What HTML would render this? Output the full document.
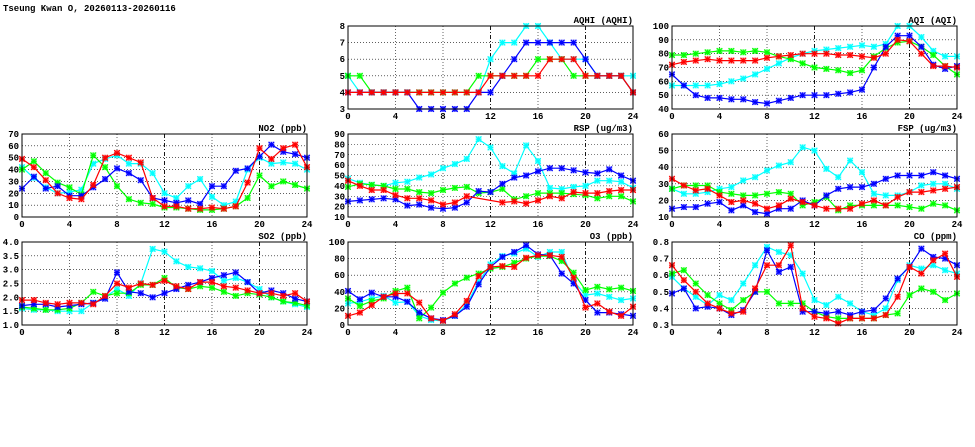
<!DOCTYPE html>
<html><head><meta charset="utf-8"><style>
body{margin:0;background:#fff;width:975px;height:447px;overflow:hidden}
svg{display:block}
text{font-family:"Liberation Mono",monospace;font-size:9px;font-weight:bold;fill:#000}
</style></head><body>
<svg id="chart" width="975" height="447" xmlns="http://www.w3.org/2000/svg">
<text x="3" y="11">Tseung Kwan O, 20260113-20260116</text>
</svg>
<script>
const hours = [0,1,2,3,4,5,6,7,8,9,10,11,12,13,14,15,16,17,18,19,20,21,22,23,24];
const xTicks = [0,4,8,12,16,20,24];
const seriesColors = ['#00ffff','#00ff00','#0000ff','#ff0000'];

const aqhiBlue=[4,4,4,4,4,4,3,3,3,3,3,4,4,5,6,7,7,7,7,7,6,5,5,5,4];
const aqhiCyan=[5,4,4,4,4,4,4,4,4,4,4,4,6,7,7,8,8,7,6,6,6,5,5,5,5];
const aqhiGreen=[5,5,4,4,4,4,4,4,4,4,4,5,5,5,5,5,6,6,6,5,5,5,5,5,4];
const aqhiRed=[4,4,4,4,4,4,4,4,4,4,4,4,5,5,5,5,5,6,6,6,5,5,5,5,4];
const aqhiTicks=[3,4,5,6,7,8];

const aqiBlue=[65,57,50,48,48,47,47,45,44,46,48,50,50,50,51,52,54,70,85,93,93,85,72,69,71];
const aqiCyan=[57,57,57,57,58,60,62,65,69,73,77,80,82,83,84,85,86,85,87,100,100,92,82,78,78];
const aqiGreen=[79,79,80,81,82,82,81,82,81,78,76,73,70,69,68,66,68,78,84,88,89,85,79,71,65];
const aqiRed=[72,74,75,76,75,75,75,75,77,78,79,80,80,80,79,79,78,77,80,90,89,80,71,71,70];
const aqiTicks=[40,50,60,70,80,90,100];

const no2Blue=[24,34,24,26,18,18,25,32,41,37,31,16,14,12,14,11,26,26,39,41,51,61,55,53,50];
const no2Cyan=[42,33,25,20,21,23,45,49,52,45,45,37,20,16,26,32,17,10,13,40,50,45,46,45,40];
const no2Green=[40,47,37,29,25,19,52,42,26,15,12,11,8,8,7,6,6,7,9,16,35,26,30,27,24];
const no2Red=[49,42,31,20,16,15,27,50,54,50,46,16,9,9,7,7,8,7,9,29,58,49,58,61,42];
const no2Ticks=[0,10,20,30,40,50,60,70];

const rspBlue=[25,26,27,28,27,21,22,19,18,19,24,35,34,42,48,50,54,57,57,55,53,52,56,50,45];
const rspCyan=[47,43,41,40,43,44,48,51,57,61,66,85,77,59,52,79,64,38,37,39,40,45,45,44,38];
const rspGreen=[39,42,41,40,37,37,34,33,36,38,39,33,34,37,27,30,33,33,33,32,31,28,30,30,25];
const rspRed=[45,40,36,36,31,28,28,26,22,24,30,null,null,24,25,23,26,30,28,34,33,33,35,36,36];
const rspTicks=[10,20,30,40,50,60,70,80,90];

const fspBlue=[15,16,16,18,19,14,17,13,12,15,15,20,17,23,27,28,28,30,33,35,35,35,37,35,33];
const fspCyan=[27,24,24,25,27,28,32,34,38,41,43,52,50,39,34,44,37,24,23,23,25,29,30,30,27];
const fspGreen=[27,29,29,29,25,24,23,23,24,25,24,17,19,22,14,17,17,17,17,17,16,15,18,17,14];
const fspRed=[33,29,26,27,23,19,20,18,15,17,21,19,17,15,15,15,18,20,17,22,25,25,26,27,28];
const fspTicks=[10,20,30,40,50,60];

const so2Blue=[1.7,1.75,1.75,1.65,1.7,1.75,1.8,1.95,2.9,2.2,2.15,2.0,2.15,2.3,2.45,2.55,2.7,2.8,2.9,2.55,2.15,2.25,2.15,1.95,1.85];
const so2Cyan=[1.6,1.55,1.55,1.5,1.5,1.5,1.8,2.0,2.3,2.05,2.5,3.75,3.65,3.3,3.1,3.05,2.95,2.6,2.7,2.55,2.3,2.0,1.85,1.75,1.65];
const so2Green=[1.65,1.6,1.55,1.55,1.6,1.8,2.2,2.05,2.15,2.15,2.45,2.45,2.7,2.35,2.3,2.4,2.35,2.2,2.05,2.15,2.1,2.0,1.85,1.8,1.7];
const so2Red=[1.9,1.9,1.8,1.75,1.8,1.8,1.75,2.05,2.5,2.35,2.5,2.45,2.6,2.4,2.3,2.55,2.55,2.4,2.35,2.25,2.15,2.15,2.05,2.15,1.85];
const so2Ticks=[1.0,1.5,2.0,2.5,3.0,3.5,4.0];

const o3Blue=[41,31,39,34,34,28,15,8,6,11,22,49,70,82,88,96,85,84,62,50,30,15,15,13,11];
const o3Cyan=[26,28,32,35,27,28,11,6,5,11,25,52,73,83,86,92,82,88,88,53,36,38,34,30,32];
const o3Green=[32,23,29,32,41,45,8,21,39,50,57,62,68,70,75,80,83,83,77,63,42,46,43,45,41];
const o3Red=[11,15,24,34,38,38,27,8,5,13,29,59,70,71,70,81,84,84,82,57,21,26,16,11,22];
const o3Ticks=[0,20,40,60,80,100];

const coBlue=[0.49,0.52,0.40,0.41,0.40,0.36,0.39,0.50,0.75,0.62,0.65,0.38,0.38,0.37,0.38,0.36,0.38,0.39,0.46,0.58,0.65,0.76,0.71,0.70,0.66];
const coCyan=[0.59,0.52,0.47,0.42,0.48,0.45,0.55,0.66,0.77,0.74,0.72,0.61,0.45,0.42,0.47,0.43,0.38,0.36,0.40,0.57,0.66,0.64,0.66,0.63,0.61];
const coGreen=[0.61,0.63,0.55,0.48,0.43,0.39,0.45,0.50,0.50,0.43,0.43,0.43,0.38,0.35,0.34,0.34,0.34,0.34,0.36,0.37,0.48,0.52,0.50,0.45,0.49];
const coRed=[0.66,0.57,0.50,0.43,0.40,0.37,0.38,0.52,0.66,0.66,0.78,0.40,0.35,0.34,0.31,0.34,0.34,0.34,0.36,0.47,0.65,0.61,0.69,0.73,0.59];
const coTicks=[0.3,0.4,0.5,0.6,0.7,0.8];

const NS='http://www.w3.org/2000/svg';
const svg=document.getElementById('chart');
function mk(tag,attrs,parent){const e=document.createElementNS(NS,tag);for(const k in attrs)e.setAttribute(k,attrs[k]);(parent||svg).appendChild(e);return e;}

const panels=[
 {name:'aqhi',title:'AQHI (AQHI)',x0:348,y0:26,ticks:aqhiTicks,dec:0,series:[aqhiCyan,aqhiGreen,aqhiBlue,aqhiRed]},
 {name:'aqi',title:'AQI (AQI)',x0:672,y0:26,ticks:aqiTicks,dec:0,series:[aqiCyan,aqiGreen,aqiBlue,aqiRed]},
 {name:'no2',title:'NO2 (ppb)',x0:22,y0:134,ticks:no2Ticks,dec:0,series:[no2Cyan,no2Green,no2Blue,no2Red]},
 {name:'rsp',title:'RSP (ug/m3)',x0:348,y0:134,ticks:rspTicks,dec:0,series:[rspCyan,rspGreen,rspBlue,rspRed]},
 {name:'fsp',title:'FSP (ug/m3)',x0:672,y0:134,ticks:fspTicks,dec:0,series:[fspCyan,fspGreen,fspBlue,fspRed]},
 {name:'so2',title:'SO2 (ppb)',x0:22,y0:242,ticks:so2Ticks,dec:1,series:[so2Cyan,so2Green,so2Blue,so2Red]},
 {name:'o3',title:'O3 (ppb)',x0:348,y0:242,ticks:o3Ticks,dec:0,series:[o3Cyan,o3Green,o3Blue,o3Red]},
 {name:'co',title:'CO (ppm)',x0:672,y0:242,ticks:coTicks,dec:1,series:[coCyan,coGreen,coBlue,coRed]},
];
const W=285,H=83;
const colNames=['cyan','green','blue','red'];
panels.forEach(p=>{
 const g=mk('g',{});
 
 
 const ymin=p.ticks[0],ymax=p.ticks[p.ticks.length-1];
 const sx=v=>p.x0+v/24*W;
 const sy=v=>p.y0+H-(v-ymin)/(ymax-ymin)*H;
 // grid
 p.ticks.forEach((t,i)=>{
  const y=sy(t);
  if(i>0&&i<p.ticks.length-1){const l=mk('line',{x1:p.x0,x2:p.x0+W,y1:y,y2:y,stroke:'#000','stroke-width':0.6,'stroke-dasharray':'1,2'},g);
   }
  const tx=mk('text',{x:p.x0-3,y:y+3,'text-anchor':'end'},g);tx.textContent=t.toFixed(p.dec);
  
 });
 xTicks.forEach((t,i)=>{
  const x=sx(t);
  if(i>0&&i<xTicks.length-1){const dark=(t===12||t===20);
   const l=mk('line',{x1:x,x2:x,y1:p.y0,y2:p.y0+H,stroke:'#000','stroke-width':dark?0.9:0.6,'stroke-dasharray':dark?'4,2,1,2':'1,2'},g);
   }
  const tx=mk('text',{x:x,y:p.y0+H+10,'text-anchor':'middle'},g);tx.textContent=t;
  
 });
 const tt=mk('text',{x:p.x0+W,y:p.y0-3,'text-anchor':'end'},g);tt.textContent=p.title;
 
 // series
 p.series.forEach((arr,si)=>{
  const c=seriesColors[si];
  const pts=[];
  arr.forEach((v,i)=>{if(v!==null&&v!==undefined)pts.push([sx(hours[i]),sy(v)]);});
  const pl=mk('polyline',{points:pts.map(q=>q[0].toFixed(1)+','+q[1].toFixed(1)).join(' '),fill:'none',stroke:c,'stroke-width':1.2},g);
  
  
  pts.forEach(q=>{
   const m=mk('g',{},g);
   
   
   mk('rect',{x:q[0]-3,y:q[1]-3,width:6,height:6,fill:c,opacity:0.35},m);
   const d=2.8;
   mk('path',{d:`M${q[0]-d},${q[1]-d}L${q[0]+d},${q[1]+d}M${q[0]-d},${q[1]+d}L${q[0]+d},${q[1]-d}M${q[0]},${q[1]-d}L${q[0]},${q[1]+d}M${q[0]-d},${q[1]}L${q[0]+d},${q[1]}`,stroke:c,'stroke-width':1.1},m);
  });
 });
 const b=mk('rect',{x:p.x0,y:p.y0,width:W,height:H,fill:'none',stroke:'#000','stroke-width':1},g);
 
});
</script>
</body></html>
